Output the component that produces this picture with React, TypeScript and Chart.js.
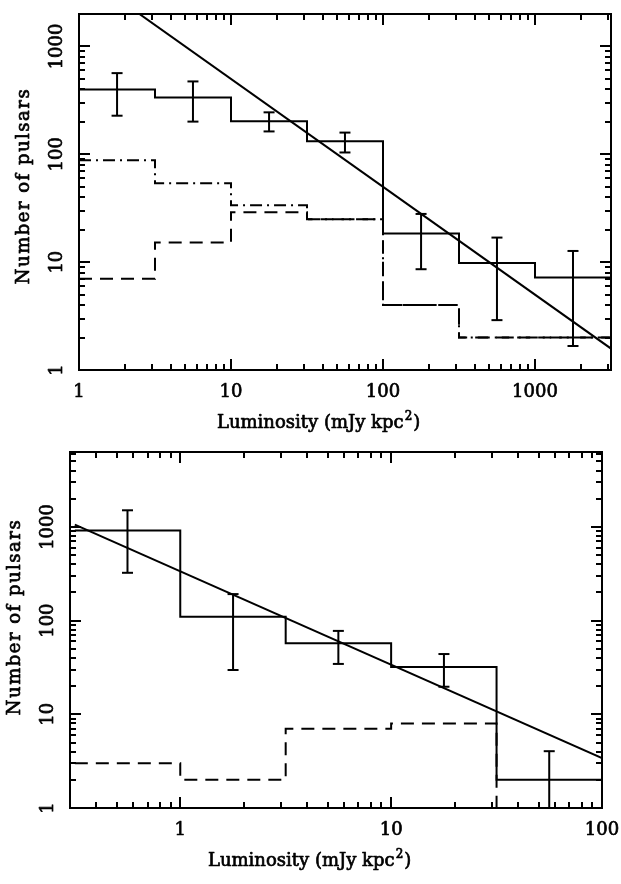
import React, { useEffect, useRef } from 'react';
import { Chart, registerables } from 'chart.js';

Chart.register(...registerables);

// ---------------- Top panel data ----------------
const topEdges = [1, 3.162, 10, 31.62, 100, 316.2, 1000, 3162];
const topAll = [400, 337, 203, 132, 18.4, 9.8, 7.2, 7.2];
const topDashed = [7, 15.2, 29, 25, 4, 2, 2, 2];
const topDotDash = [88, 54, 33.7, 25, 4, 2, 2, 2];
const topErrX = [1.78, 5.62, 17.8, 56.2, 178, 562, 1778];
const topErrLo = [228, 201, 163, 104, 8.6, 2.9, 1.67];
const topErrHi = [566, 474, 245, 159, 28, 16.9, 12.7];
const topFitX = [1, 3162];
const topFitY = [5000, 1.58];
const topXRange = [1, 3162];
const topYRange = [1, 2000];
const topXMajor = [1, 10, 100, 1000];
const topXMinor = [2, 3, 4, 5, 6, 7, 8, 9, 20, 30, 40, 50, 60, 70, 80, 90, 200, 300, 400, 500, 600, 700, 800, 900, 2000, 3000];
const topYMajor = [1, 10, 100, 1000];
const topYMinor = [2, 3, 4, 5, 6, 7, 8, 9, 20, 30, 40, 50, 60, 70, 80, 90, 200, 300, 400, 500, 600, 700, 800, 900, 2000];

// ---------------- Bottom panel data ----------------
const botEdges = [0.3162, 1, 3.162, 10, 31.62, 100];
const botAll = [919, 110, 57.4, 32, 2.0, 2.0];
const botDashedX = [0.3162, 1, 3.162, 10, 31.62];
const botDashedY = [3, 2, 7, 8, 0.5];
const botErrX = [0.562, 1.78, 5.62, 17.8, 56.2];
const botErrLo = [324, 29.7, 34.5, 19.7, 0.5];
const botErrHi = [1506, 192, 77.7, 44, 4.04];
const botFitX = [0.3162, 100];
const botFitY = [1059, 3.4];
const botXRange = [0.3162, 100];
const botYRange = [1, 6310];
const botXMajor = [1, 10, 100];
const botXMinor = [0.4, 0.5, 0.6, 0.7, 0.8, 0.9, 2, 3, 4, 5, 6, 7, 8, 9, 20, 30, 40, 50, 60, 70, 80, 90];
const botYMajor = [1, 10, 100, 1000];
const botYMinor = [2, 3, 4, 5, 6, 7, 8, 9, 20, 30, 40, 50, 60, 70, 80, 90, 200, 300, 400, 500, 600, 700, 800, 900, 2000, 3000, 4000, 5000, 6000];

const X_TITLE = 'Luminosity (mJy kpc';
const X_TITLE_SUP = '2';
const X_TITLE_END = ')';
const Y_TITLE = 'Number of pulsars';

const FONT = '"DejaVu Serif", serif';
const INK = '#000';

type PanelCfg = {
  xMajor: number[]; xMinor: number[]; yMajor: number[]; yMinor: number[];
  yTitleCenter: number; // offset from chart top
};

function pts(xs: number[], ys: number[]) {
  return xs.map((x, i) => ({ x, y: ys[i] }));
}

function errPts(xs: number[], lo: number[], hi: number[]) {
  const out: { x: number; y: number | null }[] = [];
  xs.forEach((x, i) => {
    out.push({ x, y: lo[i] });
    out.push({ x, y: hi[i] });
    out.push({ x, y: null });
  });
  return out;
}

function boldText(ctx: CanvasRenderingContext2D, s: string, x: number, y: number) {
  ctx.fillText(s, x, y);
  ctx.strokeText(s, x, y);
}

function axesPlugin(cfg: PanelCfg) {
  return {
    id: 'pgAxes',
    afterDraw(chart: any) {
      const { ctx, chartArea } = chart;
      const { left, right, top, bottom } = chartArea;
      const xs = chart.scales.x;
      const ys = chart.scales.y;
      ctx.save();
      ctx.strokeStyle = INK;
      ctx.fillStyle = INK;
      ctx.lineWidth = 2;
      // ticks
      const majLen = 11;
      const minLen = 6;
      const drawX = (v: number, len: number) => {
        const px = Math.round(xs.getPixelForValue(v));
        ctx.beginPath();
        ctx.moveTo(px, bottom); ctx.lineTo(px, bottom - len);
        ctx.moveTo(px, top); ctx.lineTo(px, top + len);
        ctx.stroke();
      };
      const drawY = (v: number, len: number) => {
        const py = Math.round(ys.getPixelForValue(v));
        ctx.beginPath();
        ctx.moveTo(left, py); ctx.lineTo(left + len, py);
        ctx.moveTo(right, py); ctx.lineTo(right - len, py);
        ctx.stroke();
      };
      cfg.xMinor.forEach((v) => drawX(v, minLen));
      cfg.xMajor.forEach((v) => drawX(v, majLen));
      cfg.yMinor.forEach((v) => drawY(v, minLen));
      cfg.yMajor.forEach((v) => drawY(v, majLen));
      // frame
      ctx.strokeRect(left, top, right - left, bottom - top);

      // text (slightly emboldened)
      ctx.lineWidth = 0.7;
      ctx.lineJoin = 'round';

      // tick labels
      ctx.font = `18px ${FONT}`;
      ctx.textAlign = 'center';
      ctx.textBaseline = 'alphabetic';
      cfg.xMajor.forEach((v) => {
        const px = xs.getPixelForValue(v);
        boldText(ctx, String(v), px, bottom + 27);
      });
      cfg.yMajor.forEach((v) => {
        const py = ys.getPixelForValue(v);
        ctx.save();
        ctx.translate(left - 22, py);
        ctx.rotate(-Math.PI / 2);
        ctx.textBaseline = 'middle';
        boldText(ctx, String(v), 0, 0);
        ctx.restore();
      });

      // x title
      ctx.textAlign = 'left';
      ctx.textBaseline = 'alphabetic';
      ctx.font = `18px ${FONT}`;
      const tx = left + 138;
      const ty = bottom + 58;
      boldText(ctx, X_TITLE, tx, ty);
      const w1 = ctx.measureText(X_TITLE).width;
      ctx.font = `12px ${FONT}`;
      boldText(ctx, X_TITLE_SUP, tx + w1 + 1, ty - 8);
      const w2 = ctx.measureText(X_TITLE_SUP).width;
      ctx.font = `18px ${FONT}`;
      boldText(ctx, X_TITLE_END, tx + w1 + w2 + 2, ty);

      // y title
      ctx.save();
      ctx.translate(left - 50, top + cfg.yTitleCenter);
      ctx.rotate(-Math.PI / 2);
      ctx.textAlign = 'center';
      ctx.textBaseline = 'alphabetic';
      ctx.font = `18px ${FONT}`;
      (ctx as any).letterSpacing = '1.5px';
      boldText(ctx, Y_TITLE, 0, 0);
      ctx.restore();
      ctx.restore();
    },
  };
}

function histDs(data: any[], dash: number[]) {
  return {
    type: 'line',
    data,
    stepped: true,
    borderColor: INK,
    borderWidth: 2,
    borderDash: dash,
    pointRadius: 0,
    fill: false,
  };
}

function lineDs(data: any[]) {
  return {
    type: 'line',
    data,
    borderColor: INK,
    borderWidth: 2,
    pointRadius: 0,
    fill: false,
  };
}

function errDs(data: any[]) {
  return {
    type: 'line',
    data,
    borderColor: INK,
    borderWidth: 2,
    pointStyle: 'line',
    pointRadius: 5.5,
    pointBorderWidth: 2,
    pointBorderColor: INK,
    pointBackgroundColor: INK,
    spanGaps: false,
    fill: false,
  };
}

function makeOptions(xr: number[], yr: number[], pad: any) {
  return {
    responsive: false,
    maintainAspectRatio: false,
    animation: false,
    devicePixelRatio: 1,
    layout: { padding: pad },
    plugins: { legend: { display: false }, tooltip: { enabled: false }, title: { display: false } },
    events: [],
    scales: {
      x: { type: 'logarithmic', min: xr[0], max: xr[1], display: false },
      y: { type: 'logarithmic', min: yr[0], max: yr[1], display: false },
    },
  };
}

function Panel({ which }: { which: 'top' | 'bottom' }) {
  const ref = useRef<HTMLCanvasElement | null>(null);
  useEffect(() => {
    if (!ref.current) return;
    let chart: any;
    if (which === 'top') {
      chart = new Chart(ref.current, {
        type: 'line',
        data: {
          datasets: [
            histDs(pts(topEdges, topAll), []),
            histDs(pts(topEdges, topDotDash), [12, 5, 2, 5]),
            histDs(pts(topEdges, topDashed), [13, 8]),
            errDs(errPts(topErrX, topErrLo, topErrHi)),
            lineDs(pts(topFitX, topFitY)),
          ] as any,
        },
        options: makeOptions(topXRange, topYRange, { left: 79, top: 14, right: 10, bottom: 72 }) as any,
        plugins: [axesPlugin({ xMajor: topXMajor, xMinor: topXMinor, yMajor: topYMajor, yMinor: topYMinor, yTitleCenter: 172 })],
      });
    } else {
      chart = new Chart(ref.current, {
        type: 'line',
        data: {
          datasets: [
            histDs(pts(botEdges, botAll), []),
            histDs(pts(botDashedX, botDashedY), [13, 8]),
            errDs(errPts(botErrX, botErrLo, botErrHi)),
            lineDs(pts(botFitX, botFitY)),
          ] as any,
        },
        options: makeOptions(botXRange, botYRange, { left: 70, top: 10, right: 19, bottom: 76 }) as any,
        plugins: [axesPlugin({ xMajor: botXMajor, xMinor: botXMinor, yMajor: botYMajor, yMinor: botYMinor, yTitleCenter: 165 })],
      });
    }
    return () => chart.destroy();
  }, [which]);
  return <canvas ref={ref} width={621} height={442} style={{ display: 'block', width: 621, height: 442 }} />;
}

export default function App() {
  return (
    <div style={{ position: 'absolute', left: 0, top: 0, width: 621, height: 884, background: '#fff' }}>
      <Panel which="top" />
      <Panel which="bottom" />
    </div>
  );
}
